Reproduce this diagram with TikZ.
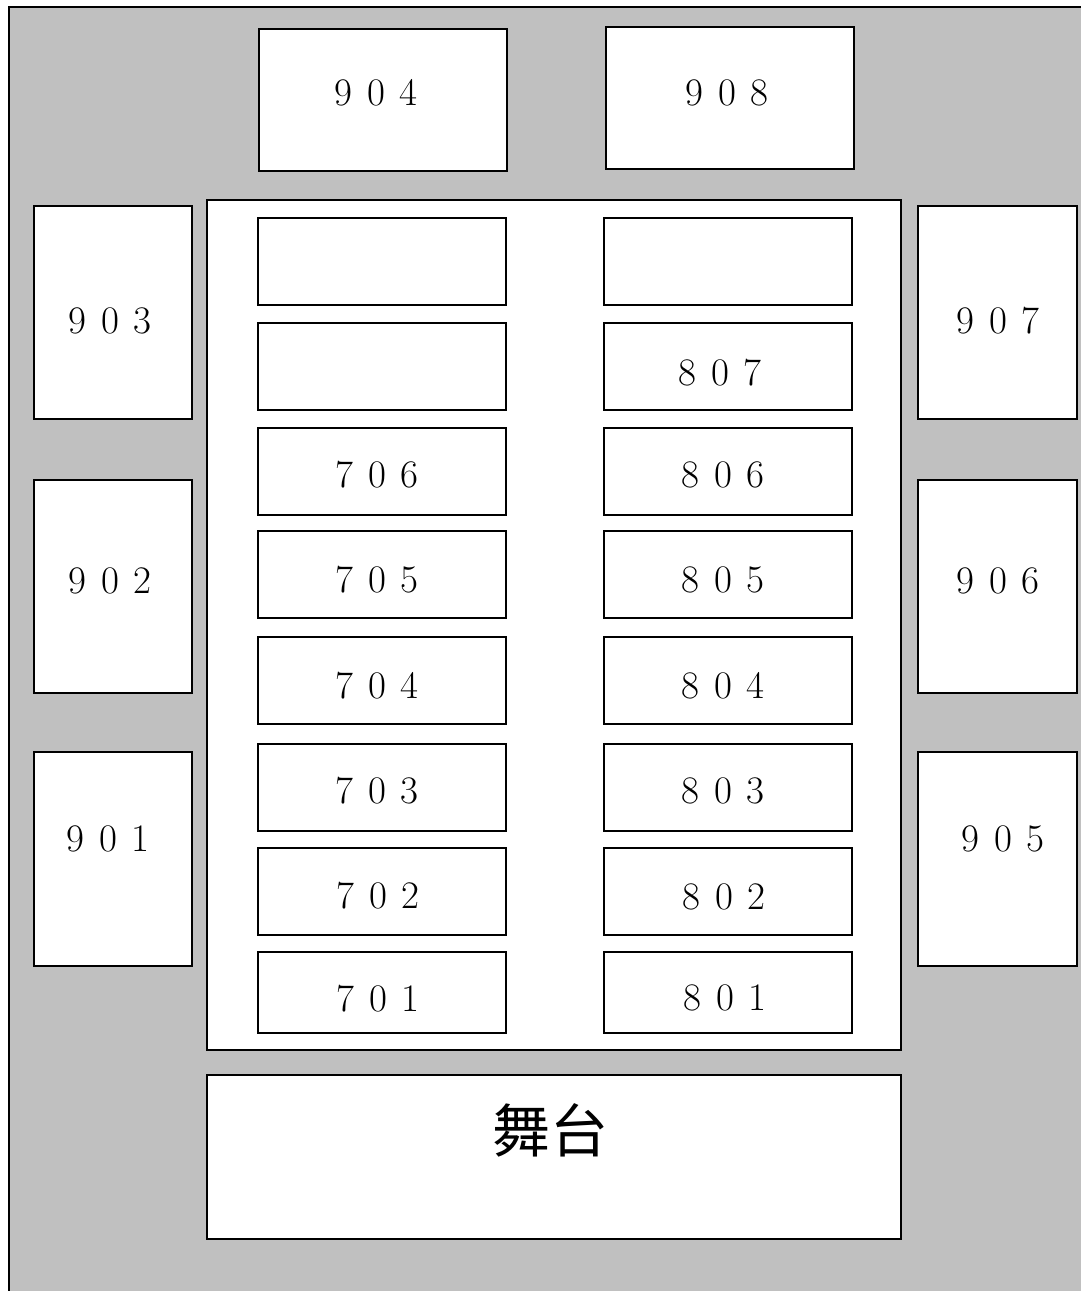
\documentclass[tikz,border=0pt]{standalone}
\usepackage{fontspec}
\newfontfamily\cjkfont{Noto Sans CJK SC}
\definecolor{floorgray}{HTML}{C0C0C0}
\tikzset{
  box/.style={draw=black, line width=1.5pt, fill=white, rectangle, inner sep=0pt, outer sep=0pt},
  num/.style={anchor=base, inner sep=0pt, font={\fontsize{39}{41}\selectfont\spaceskip=15pt\relax}},
  stagelabel/.style={inner sep=0pt, font={\cjkfont\fontsize{58}{60}\selectfont}}
}
\begin{document}
\begin{tikzpicture}[x=1pt,y=-1pt]
\clip (0,0) rectangle (1081,1291);
\useasboundingbox (0,0) rectangle (1081,1291);
\fill[white] (0,0) rectangle (1081,1291);
\node[draw=black, line width=1.8pt, fill=floorgray, rectangle, inner sep=0pt, minimum width=1110pt, minimum height=1320pt, anchor=north west] (floor) at (8,6) {};
% top
\node[box, minimum width=248pt, minimum height=142pt] (b904) at (383,100) {};
\node[box, minimum width=248pt, minimum height=142pt] (b908) at (730,98) {};
% hall
\node[box, minimum width=694pt, minimum height=850pt] (hall) at (554,625) {};
% left column
\node[box, minimum width=248pt, minimum height=87pt] (b708) at (382,261.5) {};
\node[box, minimum width=248pt, minimum height=87pt] (b707) at (382,366.5) {};
\node[box, minimum width=248pt, minimum height=87pt] (b706) at (382,471.5) {};
\node[box, minimum width=248pt, minimum height=87pt] (b705) at (382,574.5) {};
\node[box, minimum width=248pt, minimum height=87pt] (b704) at (382,680.5) {};
\node[box, minimum width=248pt, minimum height=87pt] (b703) at (382,787.5) {};
\node[box, minimum width=248pt, minimum height=87pt] (b702) at (382,891.5) {};
\node[box, minimum width=248pt, minimum height=81pt] (b701) at (382,992.5) {};
% right column
\node[box, minimum width=248pt, minimum height=87pt] (b808) at (728,261.5) {};
\node[box, minimum width=248pt, minimum height=87pt] (b807) at (728,366.5) {};
\node[box, minimum width=248pt, minimum height=87pt] (b806) at (728,471.5) {};
\node[box, minimum width=248pt, minimum height=87pt] (b805) at (728,574.5) {};
\node[box, minimum width=248pt, minimum height=87pt] (b804) at (728,680.5) {};
\node[box, minimum width=248pt, minimum height=87pt] (b803) at (728,787.5) {};
\node[box, minimum width=248pt, minimum height=87pt] (b802) at (728,891.5) {};
\node[box, minimum width=248pt, minimum height=81pt] (b801) at (728,992.5) {};
% sides
\node[box, minimum width=158pt, minimum height=213pt] (b903) at (113,312.5) {};
\node[box, minimum width=158pt, minimum height=213pt] (b902) at (113,586.5) {};
\node[box, minimum width=158pt, minimum height=214pt] (b901) at (113,859) {};
\node[box, minimum width=159pt, minimum height=213pt] (b907) at (997.5,312.5) {};
\node[box, minimum width=159pt, minimum height=213pt] (b906) at (997.5,586.5) {};
\node[box, minimum width=159pt, minimum height=214pt] (b905) at (997.5,859) {};
% stage
\node[box, minimum width=694pt, minimum height=164pt] (stage) at (554,1157) {};
% labels
\node[num] (t904) at (376,105) {9 0 4};
\node[num] (t908) at (727,105) {9 0 8};
\node[num] (t903) at (110,333) {9 0 3};
\node[num] (t902) at (110,593) {9 0 2};
\node[num] (t901) at (108,851) {9 0 1};
\node[num] (t907) at (998,333) {9 0 7};
\node[num] (t906) at (998,593) {9 0 6};
\node[num] (t905) at (1003,851) {9 0 5};
\node[num] (t807) at (720,385) {8 0 7};
\node[num] (t706) at (377,487) {7 0 6};
\node[num] (t806) at (723,487) {8 0 6};
\node[num] (t705) at (377,592) {7 0 5};
\node[num] (t805) at (723,592) {8 0 5};
\node[num] (t704) at (377,698) {7 0 4};
\node[num] (t804) at (723,698) {8 0 4};
\node[num] (t703) at (377,803) {7 0 3};
\node[num] (t803) at (723,803) {8 0 3};
\node[num] (t702) at (378,908) {7 0 2};
\node[num] (t802) at (724,909) {8 0 2};
\node[num] (t701) at (378,1011) {7 0 1};
\node[num] (t801) at (725,1010) {8 0 1};
\node[stagelabel] (tstage) at (550,1130) {舞台};
\end{tikzpicture}
\end{document}
